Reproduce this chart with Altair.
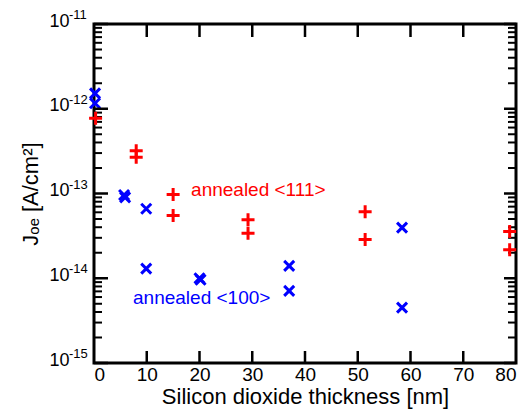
import altair as alt
import pandas as pd

# ---- data ----
red_x = [0.3, 8.0, 8.0, 15.0, 15.0, 29.2, 29.2, 51.4, 51.4, 78.8, 78.8]
red_y = [7.7e-13, 3.2e-13, 2.67e-13, 9.7e-14, 5.5e-14, 4.9e-14, 3.4e-14,
         6.1e-14, 2.86e-14, 3.55e-14, 2.17e-14]
blue_x = [0.2, 0.2, 5.7, 5.9, 9.9, 9.9, 20.0, 20.2, 37.0, 37.0, 58.4, 58.4]
blue_y = [1.52e-12, 1.16e-12, 9.6e-14, 9.0e-14, 6.6e-14, 1.3e-14, 1.0e-14,
          9.6e-15, 1.4e-14, 7.1e-15, 3.96e-14, 4.5e-15]

red_label = ["annealed <111>"]
red_label_x = [18.4]
red_label_y = [1.085e-13]
blue_label = ["annealed <100>"]
blue_label_x = [7.4]
blue_label_y = [5.9e-15]

x_labels = [0, 10, 20, 30, 40, 50, 60, 70, 80]
x_inner_ticks = [10, 20, 30, 40, 50, 60, 70]
y_decades = [1e-11, 1e-12, 1e-13, 1e-14, 1e-15]
y_exponents = ["-11", "-12", "-13", "-14", "-15"]
y_minor = [k * d for d in [1e-15, 1e-14, 1e-13, 1e-12] for k in range(2, 10)]

W, H = 422, 339
FONT = "Liberation Sans"
PLUS = "M-1,0L1,0M0,-1L0,1"
CROSS = "M-1,-1L1,1M-1,1L1,-1"

xscale = alt.Scale(domain=[0, 80], nice=False, zero=False)
yscale = alt.Scale(type="log", domain=[1e-15, 1e-11], nice=False)

x_axis = alt.Axis(values=x_labels, ticks=False, domain=False, grid=False,
                  labelFontSize=19, labelPadding=17, labelBaseline="alphabetic",
                  labelColor="black", labelFont=FONT, format="d",
                  title="Silicon dioxide thickness [nm]", titleFontSize=22,
                  titleFontWeight="normal", titleColor="black", titleFont=FONT,
                  titleY=40, titleBaseline="alphabetic")
y_axis = alt.Axis(labels=False, ticks=False, domain=False, grid=False,
                  title="Jₒₑ [A/cm²]", titleFontSize=22, titleFontWeight="normal",
                  titleColor="black", titleFont=FONT, titleX=-57,
                  titleBaseline="alphabetic")


def X(field):
    return alt.X(field, type="quantitative", scale=xscale, axis=x_axis)


def Y(field):
    return alt.Y(field, type="quantitative", scale=yscale, axis=y_axis)


red_df = pd.DataFrame({"x": red_x, "y": red_y})
blue_df = pd.DataFrame({"x": blue_x, "y": blue_y})

blue_pts = alt.Chart(blue_df).mark_point(
    shape=CROSS, size=100, filled=False, strokeWidth=3, color="#0000ff", opacity=1
).encode(x=X("x"), y=Y("y"))

red_pts = alt.Chart(red_df).mark_point(
    shape=PLUS, size=169, filled=False, strokeWidth=3, color="#ff0000", opacity=1
).encode(x=X("x"), y=Y("y"))

# inward ticks
xt = pd.DataFrame({"v": x_inner_ticks})
bottom_ticks = alt.Chart(xt).mark_rule(color="black", strokeWidth=2.5).encode(
    x=X("v"), y=alt.value(H), y2=alt.value(H - 12))
top_ticks = alt.Chart(xt).mark_rule(color="black", strokeWidth=2.5).encode(
    x=X("v"), y=alt.value(0), y2=alt.value(13))

yd = pd.DataFrame({"v": y_decades, "e": y_exponents, "b": ["10"] * len(y_decades)})
ym = pd.DataFrame({"v": y_minor})
left_major = alt.Chart(yd).mark_rule(color="black", strokeWidth=2.5).encode(
    y=Y("v"), x=alt.value(0), x2=alt.value(14))
left_minor = alt.Chart(ym).mark_rule(color="black", strokeWidth=2).encode(
    y=Y("v"), x=alt.value(0), x2=alt.value(8))
right_major = alt.Chart(yd).mark_rule(color="black", strokeWidth=2.5).encode(
    y=Y("v"), x=alt.value(W), x2=alt.value(W - 12))
right_minor = alt.Chart(ym).mark_rule(color="black", strokeWidth=2).encode(
    y=Y("v"), x=alt.value(W), x2=alt.value(W - 8))

# y tick labels 10^n
ylab_base = alt.Chart(yd).mark_text(
    align="right", baseline="middle", fontSize=18, font=FONT, color="black", dy=-2.5
).encode(y=Y("v"), x=alt.value(-24.5), text="b:N")
ylab_exp = alt.Chart(yd).mark_text(
    align="left", baseline="middle", fontSize=13, font=FONT, color="black", dy=-9
).encode(y=Y("v"), x=alt.value(-25), text="e:N")

red_txt = alt.Chart(pd.DataFrame({"x": red_label_x, "y": red_label_y, "t": red_label})).mark_text(
    align="left", baseline="middle", fontSize=19, font=FONT, color="#ff0000"
).encode(x=X("x"), y=Y("y"), text="t:N")
blue_txt = alt.Chart(pd.DataFrame({"x": blue_label_x, "y": blue_label_y, "t": blue_label})).mark_text(
    align="left", baseline="middle", fontSize=19, font=FONT, color="#0000ff"
).encode(x=X("x"), y=Y("y"), text="t:N")

chart = alt.layer(
    blue_pts, bottom_ticks, top_ticks, left_major, left_minor, right_major, right_minor,
    ylab_base, ylab_exp, red_txt, blue_txt, red_pts
).properties(
    width=W, height=H,
    autosize=alt.AutoSizeParams(type="none"),
    padding={"left": 86, "top": 16, "right": 7, "bottom": 47},
).configure(font=FONT).configure_view(stroke="black", strokeWidth=3)

chart.save("out.html", embed_options={"renderer": "svg", "actions": False})
